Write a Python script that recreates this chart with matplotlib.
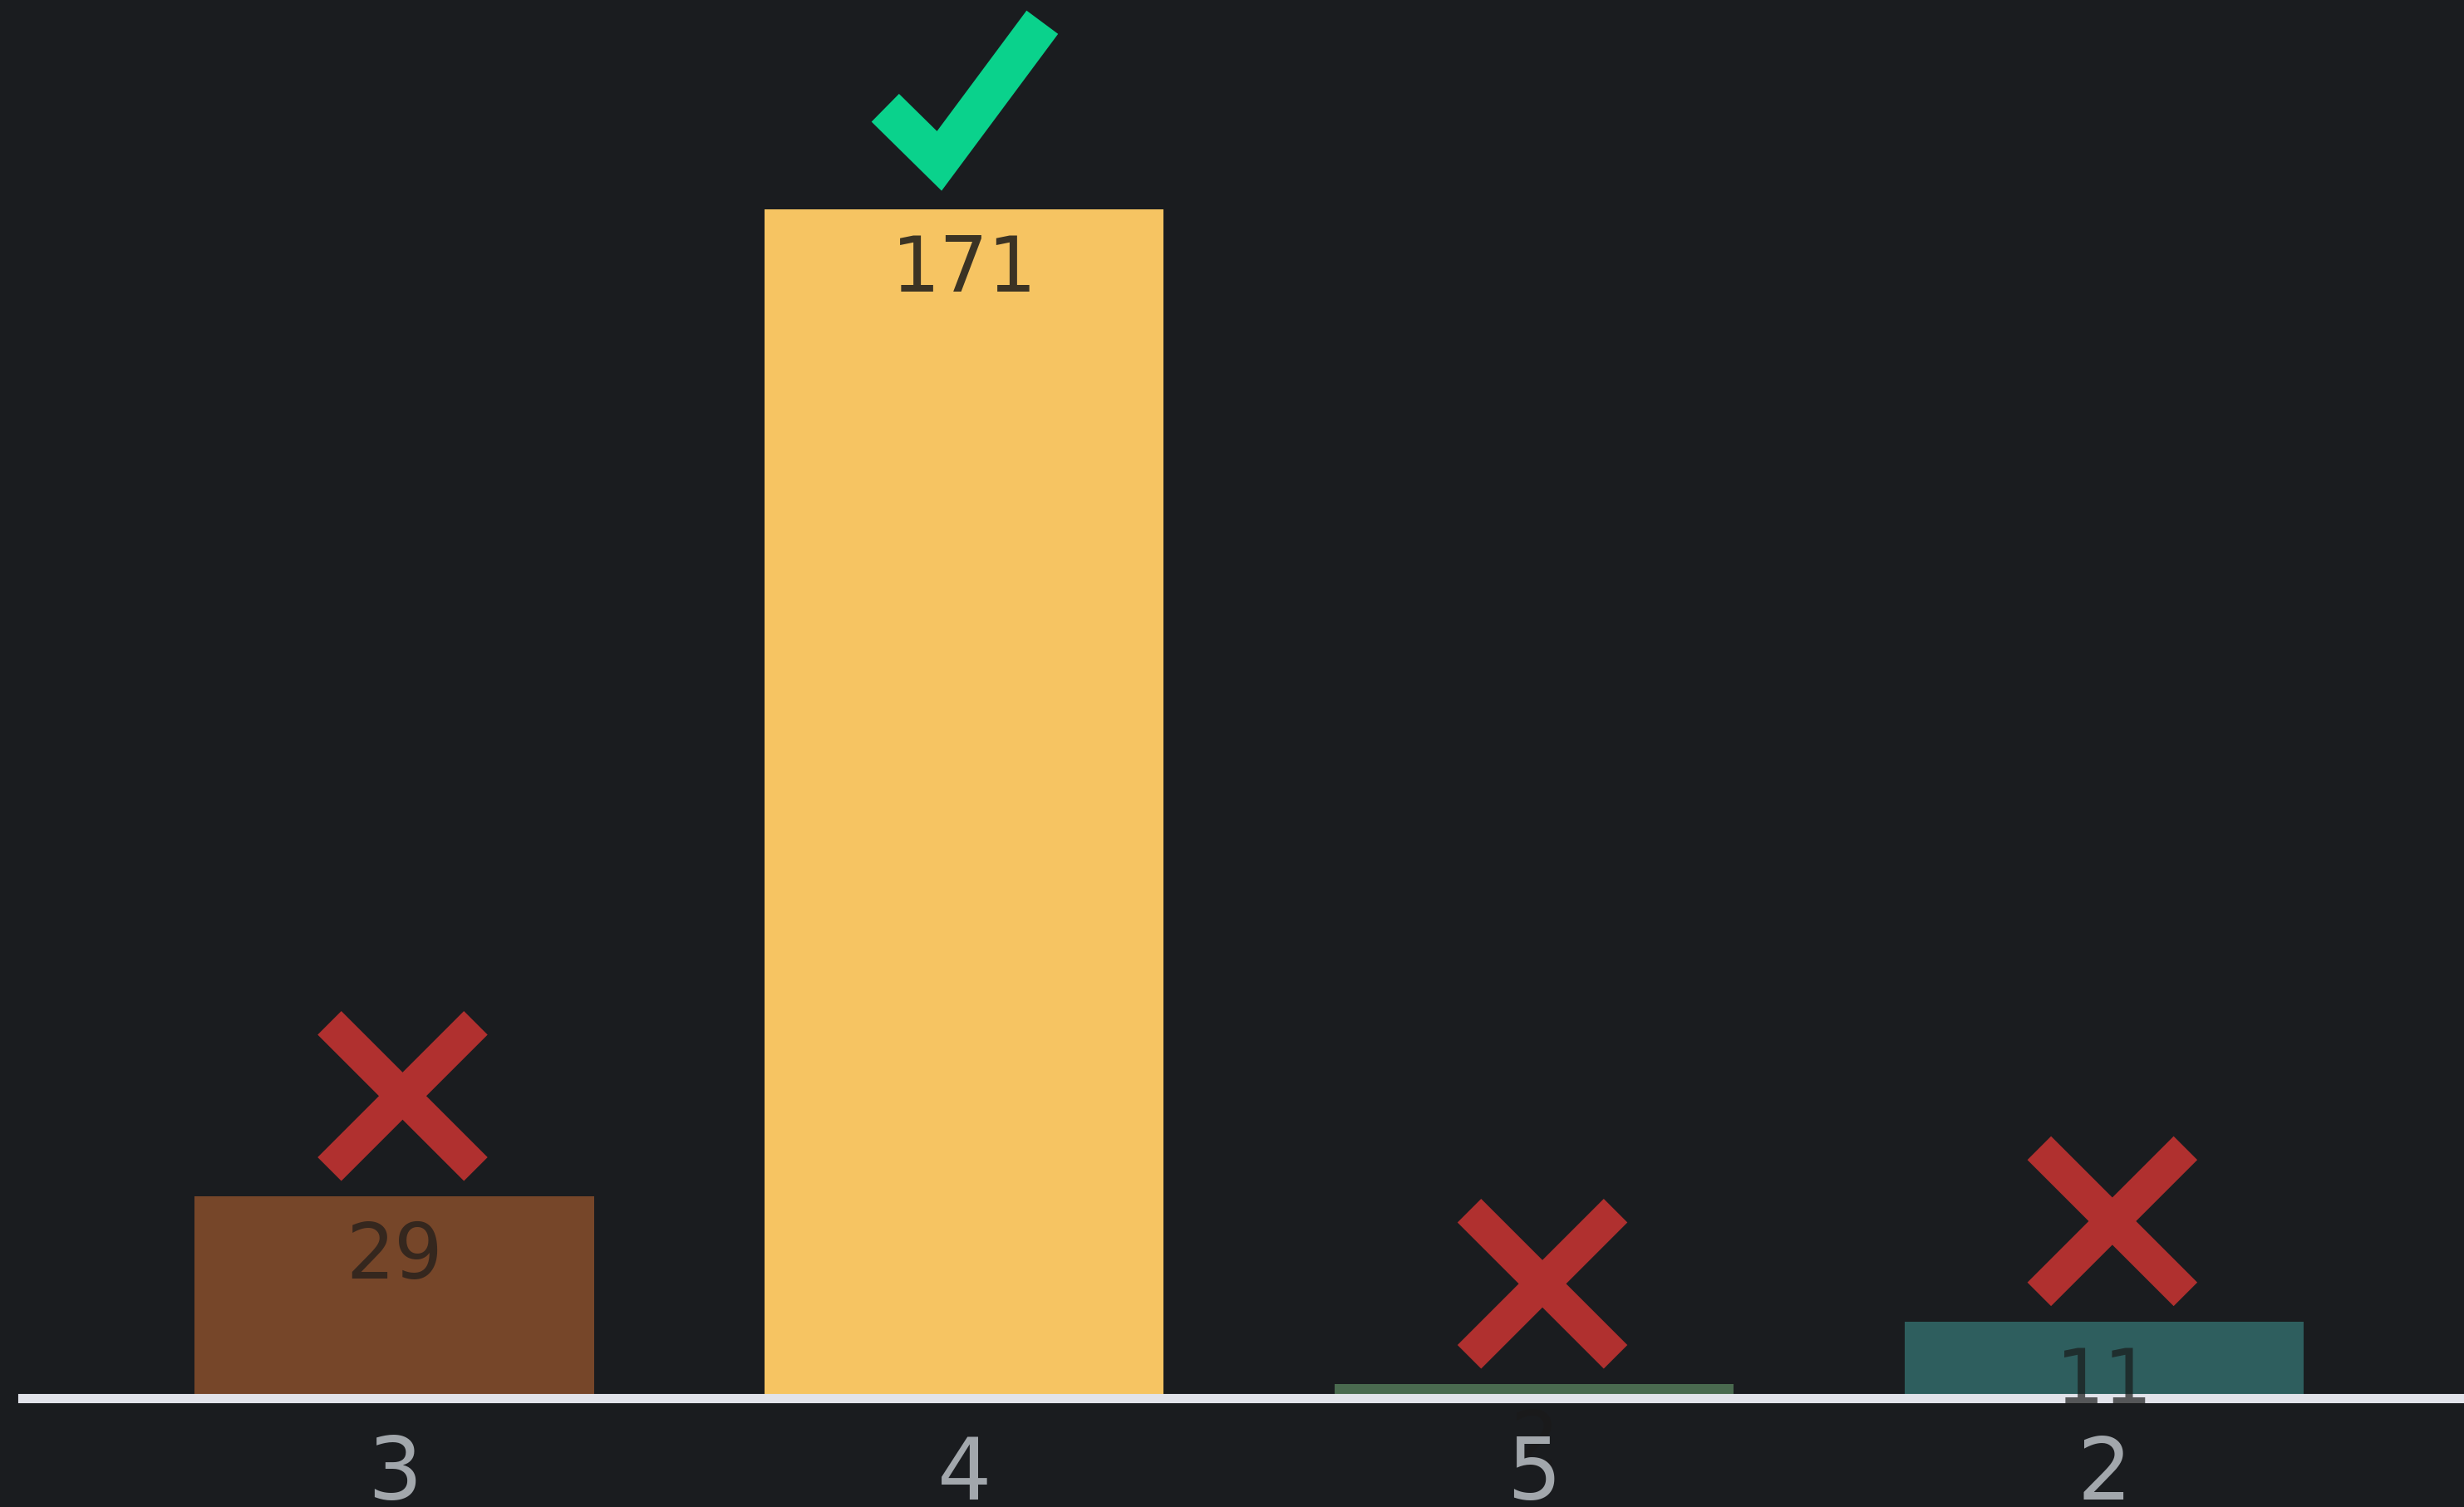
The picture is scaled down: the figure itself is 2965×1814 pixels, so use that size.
import numpy as np
import matplotlib
matplotlib.use('Agg')
import matplotlib.pyplot as plt
from matplotlib.transforms import Affine2D, ScaledTranslation

# data
answers = ['3', '4', '5', '2']
votes = [29, 171, 2, 11]
correct = [False, True, False, False]
bar_colors = ['#764629', '#f6c462', '#4a6a4f', '#2e5e5e']

bg = '#1a1c1f'
W, H, DPI = 2965, 1815, 100

fig = plt.figure(figsize=(W / DPI, H / DPI), dpi=DPI, facecolor=bg)
left = 27 / W
bottom = (H - 1684) / H
ax = fig.add_axes([left, bottom, 1 - left, 1 - bottom])
ax.set_facecolor(bg)

x = np.arange(len(answers))
ax.bar(x, votes, width=0.70, color=bar_colors, zorder=2)
ax.axhline(0, color='#e2e3ea', lw=8, zorder=3, clip_on=False)

ax.set_xlim(-0.6525, 3.6316)
ax.set_ylim(0, 201.2)

for s in ax.spines.values():
    s.set_visible(False)
ax.set_yticks([])
ax.set_xticks(x)
ax.set_xticklabels(answers, fontsize=74, color='#a2a7ac', family='DejaVu Sans')
ax.tick_params(axis='x', length=0, pad=30)
ax.xaxis.set_zorder(6)


def px(i, v):
    # pixel offsets from data point (i, v)
    return Affine2D() + ScaledTranslation(i, v, ax.transData)


for i, v in enumerate(votes):
    ax.text(0, -72, str(v), transform=px(i, v),
            ha='center', va='center', fontsize=66, color='#1a1a1a',
            alpha=0.85 if correct[i] else 0.7, zorder=4, family='DejaVu Sans')
    if correct[i]:
        ax.plot([-95, -30, 94], [122, 58, 225], transform=px(i, v),
                color='#0ad28c', lw=34, solid_capstyle='butt',
                solid_joinstyle='miter', clip_on=False, zorder=5)
    else:
        h = 88
        cx, cy = 10, 121
        ax.plot([cx - h, cx + h], [cy - h, cy + h], transform=px(i, v),
                color='#b0302f', lw=29, solid_capstyle='butt',
                clip_on=False, zorder=5)
        ax.plot([cx - h, cx + h], [cy + h, cy - h], transform=px(i, v),
                color='#b0302f', lw=29, solid_capstyle='butt',
                clip_on=False, zorder=5)

fig.savefig('out.png', dpi=DPI, facecolor=bg)
